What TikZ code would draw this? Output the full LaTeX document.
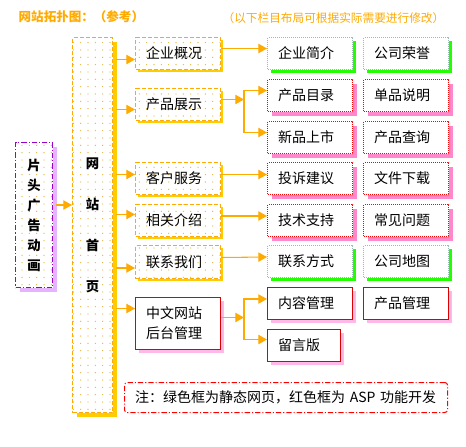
\documentclass[tikz,border=0pt]{standalone}
\usepackage{fontspec}
\setmainfont{Noto Sans CJK SC}
\usetikzlibrary{arrows.meta,calc,patterns.meta}
\definecolor{orl}{HTML}{FFAA00}
\definecolor{gold}{HTML}{FFCC00}
\definecolor{dotc}{HTML}{E6B840}
\definecolor{grn}{HTML}{22FF00}
\definecolor{gry}{HTML}{99BBB0}
\definecolor{pnk}{HTML}{FF88CC}
\definecolor{lpnk}{HTML}{FFB8E8}
\definecolor{redd}{HTML}{FF0000}
\definecolor{dred}{HTML}{DD0000}
\definecolor{prp}{HTML}{9900CC}
\definecolor{lil}{HTML}{E6B3FF}
\tikzset{
  boxshadow/.style 2 args={preaction={fill=#1, transform canvas={xshift=#2, yshift=-#2}}},
  dotfill/.style={fill=white, postaction={pattern={Dots[radius=0.5pt, distance=5.5pt]}, pattern color=dotc}},
  cell/.style={anchor=north west, line width=0.75pt, minimum height=24pt, inner xsep=8pt, text width=47.75pt, align=left},
  navbox/.style={cell, draw=orl, dash pattern=on 3pt off 1.5pt, dotfill, boxshadow={gold}{2.2pt}},
  statbox/.style={cell, draw=gry, dash pattern=on 0.75pt off 0.75pt, fill=white, boxshadow={grn}{2.25pt}},
  aspbox/.style={cell, draw=redd, dash pattern=on 0.75pt off 0.75pt, fill=white, boxshadow={pnk}{3pt}},
  adminbox/.style={cell, draw=dred, fill=white, boxshadow={lpnk}{2.25pt}},
  dashdot/.style={dash pattern=on 4pt off 1.5pt on 0.8pt off 1.5pt},
  link/.style={draw=orl, line width=0.8pt, -{Triangle[length=6.5pt, width=7pt]}},
}
\begin{document}
\begin{tikzpicture}[x=0.75pt, y=-0.75pt, font=\fontsize{10.5}{13}\selectfont]
  \useasboundingbox (0,0) rectangle (466,446);
  % heading
  \node[anchor=west, text=orl, font=\bfseries\fontsize{9.4}{11}\selectfont] (title) at (14,17) {网站拓扑图：（参考）};
  \node[anchor=east, text=orl, font=\fontsize{8.75}{10}\selectfont] (hint) at (449,18) {（以下栏目布局可根据实际需要进行修改）};
  % intro and home page
  \node[anchor=north west, draw=prp, line width=0.75pt, dashdot, dotfill, boxshadow={lil}{3pt},
        minimum width=27.75pt, minimum height=108.75pt, inner sep=0pt, align=center,
        font=\bfseries\fontsize{10}{15}\selectfont] (flash) at (15,142) {片\\头\\广\\告\\动\\画};
  \node[anchor=north west, draw=orl, line width=0.75pt, dash pattern=on 3pt off 1.5pt, dotfill, boxshadow={gold}{3pt},
        minimum width=30pt, minimum height=281.25pt, inner sep=0pt, align=center,
        font=\bfseries\fontsize{10}{30.75}\selectfont] (home) at (72,37) {网\\站\\首\\页};
  % second column
  \node[navbox] (about) at (135,37) {企业概况};
  \node[navbox] (product) at (135,88) {产品展示};
  \node[navbox] (service) at (135,162) {客户服务};
  \node[navbox] (related) at (135,204) {相关介绍};
  \node[navbox, minimum height=24.75pt] (contactus) at (135,245) {联系我们};
  \node[adminbox, minimum height=39pt, font=\fontsize{10.5}{15}\selectfont] (admin) at (135,297) {中文网站\\后台管理};
  % third and fourth column
  \node[statbox] (intro) at (267,37) {企业简介};
  \node[statbox] (honor) at (363,37) {公司荣誉};
  \node[aspbox] (catalog) at (267,79) {产品目录};
  \node[aspbox] (itemdesc) at (363,79) {单品说明};
  \node[aspbox] (newprod) at (267,121) {新品上市};
  \node[aspbox] (query) at (363,121) {产品查询};
  \node[aspbox] (complain) at (267,162) {投诉建议};
  \node[aspbox] (download) at (363,162) {文件下载};
  \node[aspbox] (support) at (267,204) {技术支持};
  \node[aspbox] (faq) at (363,204) {常见问题};
  \node[statbox] (contact) at (267,245) {联系方式};
  \node[statbox] (sitemap) at (363,245) {公司地图};
  \node[adminbox] (content) at (267,287) {内容管理};
  \node[adminbox] (prodadm) at (363,287) {产品管理};
  \node[adminbox, text width=38.75pt] (guestbook) at (267,329) {留言版};
  % note
  \node[anchor=north west, draw=redd, line width=0.75pt, dashdot, rounded corners=2pt,
        minimum width=242.25pt, minimum height=22.5pt, inner xsep=8pt, text width=226.25pt, align=left] (note) at (124,382)
        {注：绿色框为静态网页，红色框为 ASP 功能开发};
  % connectors
  \draw[link] ($(flash.east)+(3,-10)$) -- ($(home.west|-flash.east)+(0,-10)$);
  \foreach \n/\d in {about/6,product/5,service/-4,related/-6,contactus/6,admin/-15}
    \draw[link] ($(home.east|-\n.west)+(3,\d)$) -- ($(\n.west)+(0,\d)$);
  \foreach \a/\b/\d in {about/intro/-5,service/complain/-4,related/support/-4.5,contactus/contact/-4.5}
    \draw[link] ($(\a.east)+(0,\d)$) -- ($(\b.west)+(0,\d)$);
  \coordinate (jprod) at ($(product.east)+(23,-5)$);
  \draw[link] ($(product.east)+(0,-5)$) -- (jprod);
  \draw[link] (jprod) |- ($(catalog.west)+(0,-5)$);
  \draw[link] (jprod) |- ($(newprod.west)+(0,-5)$);
  \coordinate (jadm) at ($(admin.east)+(23,-6)$);
  \draw[link] ($(admin.east)+(0,-6)$) -- (jadm);
  \draw[link] (jadm) |- ($(content.west)+(0,-4.5)$);
  \draw[link] (jadm) |- ($(guestbook.west)+(0,-6)$);
\end{tikzpicture}
\end{document}
